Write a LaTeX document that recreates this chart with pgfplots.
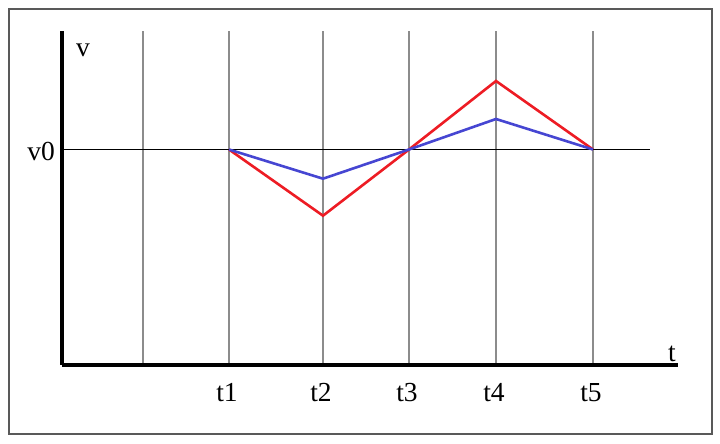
\documentclass[border=0pt]{standalone}
\usepackage{pgfplots}
\pgfplotsset{compat=1.18}
\usepackage{fontspec}
\setmainfont{Liberation Serif}
\definecolor{cred}{RGB}{237,28,36}
\definecolor{cblue}{RGB}{70,70,210}
\definecolor{cgrid}{RGB}{140,140,140}
\begin{document}
\begin{tikzpicture}
\begin{axis}[
  scale only axis,
  width=616pt, height=334pt,
  xmin=62, xmax=678, ymin=0, ymax=334,
  axis lines*=left,
  axis line style={black, line width=3.2pt},
  clip=false,
  xtick={143,229,323,409,496,593},
  xticklabels={,t1,t2,t3,t4,t5},
  ytick={215.5},
  yticklabels={v0},
  major tick length=0pt,
  xmajorgrids,
  grid style={cgrid, line width=1.8pt},
  /pgf/number format/assume math mode=true,
  xticklabel style={font=\fontsize{27.5}{30}\selectfont, anchor=base, inner sep=0pt, yshift=-36pt, xshift=-2pt},
  yticklabel style={font=\fontsize{27.5}{30}\selectfont, anchor=base east, inner sep=0pt, xshift=-7pt, yshift=-11.5pt},
]
\addplot[black, line width=1.2pt, forget plot] coordinates {(62,215.5) (650,215.5)};
\addplot[cred, line width=2.6pt] coordinates {
  (229,215.5) (323,149.3) (409,215.5) (496,284) (593,215.5)};
\addplot[cblue, line width=2.6pt] coordinates {
  (229,215.5) (323,186.3) (409,215.5) (496,246) (593,215.5)};
\node[anchor=base west, inner sep=0pt, font=\fontsize{27.5}{30}\selectfont] at (axis cs:76,308) {v};
\node[anchor=base west, inner sep=0pt, font=\fontsize{27.5}{30}\selectfont] at (axis cs:668,3) {t};
\draw[gray!70!black, line width=1.5pt] (axis cs:9,356) rectangle (axis cs:712,-69);
\coordinate (bl) at (axis cs:0,-79);
\coordinate (tr) at (axis cs:720,365);
\end{axis}
\pgfresetboundingbox
\path[use as bounding box] (bl) rectangle (tr);
\end{tikzpicture}
\end{document}
